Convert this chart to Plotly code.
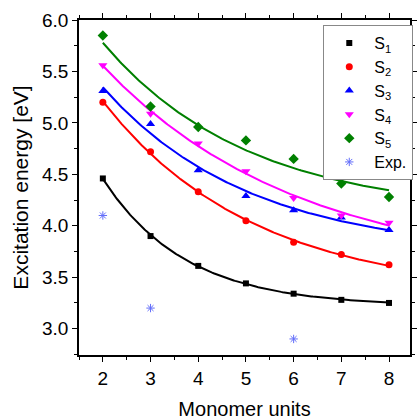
import numpy as np
import plotly.graph_objects as go

units = [2, 3, 4, 5, 6, 7, 8]
s1 = [4.46, 3.90, 3.61, 3.44, 3.34, 3.28, 3.25]
s2 = [5.20, 4.72, 4.33, 4.05, 3.84, 3.72, 3.62]
s3 = [5.31, 4.99, 4.54, 4.29, 4.15, 4.08, 3.96]
s4 = [5.56, 5.09, 4.80, 4.53, 4.27, 4.10, 4.03]
s5 = [5.85, 5.16, 4.96, 4.83, 4.65, 4.41, 4.28]
exp_units = [2, 3, 6]
exp_vals = [4.10, 3.20, 2.90]

names = ["S<sub>1</sub>", "S<sub>2</sub>", "S<sub>3</sub>", "S<sub>4</sub>", "S<sub>5</sub>"]
colors = ["#000000", "#FF0000", "#0000FF", "#FF00FF", "#008000"]
symbols = ["square", "circle", "triangle-up", "triangle-down", "diamond"]
sizes = [6, 7, 8, 8, 8]
series = [s1, s2, s3, s4, s5]

FONT = "Liberation Sans, Arial"


def exp_fit(x, y):
    x = np.asarray(x, float)
    y = np.asarray(y, float)
    best = None
    for t in np.linspace(0.3, 20, 2000):
        M = np.column_stack([np.ones_like(x), np.exp(-(x - x[0]) / t)])
        coef, *_ = np.linalg.lstsq(M, y, rcond=None)
        r = np.sum((M @ coef - y) ** 2)
        if best is None or r < best[0]:
            best = (r, t, coef)
    _, t, coef = best
    xs = np.linspace(x[0], x[-1], 200)
    return xs, coef[0] + coef[1] * np.exp(-(xs - x[0]) / t)


fig = go.Figure()
for vals, c in zip(series, colors):
    xs, ys = exp_fit(units, vals)
    fig.add_trace(go.Scatter(x=xs, y=ys, mode="lines", line=dict(color=c, width=2),
                             showlegend=False, hoverinfo="skip"))

for vals, n, c, s, sz in zip(series, names, colors, symbols, sizes):
    fig.add_trace(go.Scatter(x=units, y=vals, mode="markers", name=n,
                             marker=dict(color=c, symbol=s, size=sz)))

fig.add_trace(go.Scatter(x=exp_units, y=exp_vals, mode="markers", name="Exp.",
                         marker=dict(symbol="asterisk-open", size=7,
                                     line=dict(color="#4040FF", width=1))))

axis_common = dict(showline=True, linecolor="black", linewidth=1.5, mirror="allticks",
                   ticks="outside", ticklen=5, tickwidth=1.2, tickcolor="black",
                   showgrid=False, zeroline=False,
                   tickfont=dict(family=FONT, size=19, color="black"))

fig.update_xaxes(range=[1.5, 8.44], tickvals=units, ticktext=[str(u) for u in units],
                 minor=dict(ticks="outside", ticklen=3, tickvals=[1.5, 2.5, 3.5, 4.5, 5.5, 6.5, 7.5],
                            tickcolor="black", tickwidth=1.2, showgrid=False),
                 title=dict(text="Monomer units", standoff=14,
                            font=dict(family=FONT, size=20, color="black")),
                 **axis_common)
fig.update_yaxes(range=[2.744, 6.0], tickvals=[3.0, 3.5, 4.0, 4.5, 5.0, 5.5, 6.0],
                 ticktext=["3.0", "3.5", "4.0", "4.5", "5.0", "5.5", "6.0"],
                 minor=dict(ticks="outside", ticklen=3, tickvals=[2.75, 3.25, 3.75, 4.25, 4.75, 5.25, 5.75],
                            tickcolor="black", tickwidth=1.2, showgrid=False),
                 title=dict(text="Excitation energy [eV]", standoff=8,
                            font=dict(family=FONT, size=21, color="black")),
                 **axis_common)

fig.update_layout(
    width=420, height=420,
    margin=dict(l=79, r=3, t=20, b=57),
    paper_bgcolor="white", plot_bgcolor="white",
    legend=dict(x=0.738, y=0.985, xanchor="left", yanchor="top",
                bgcolor="white", bordercolor="#888888", borderwidth=1,
                font=dict(family=FONT, size=16, color="black"),
                itemwidth=40, tracegroupgap=0),
)

fig.write_html("out.html")
